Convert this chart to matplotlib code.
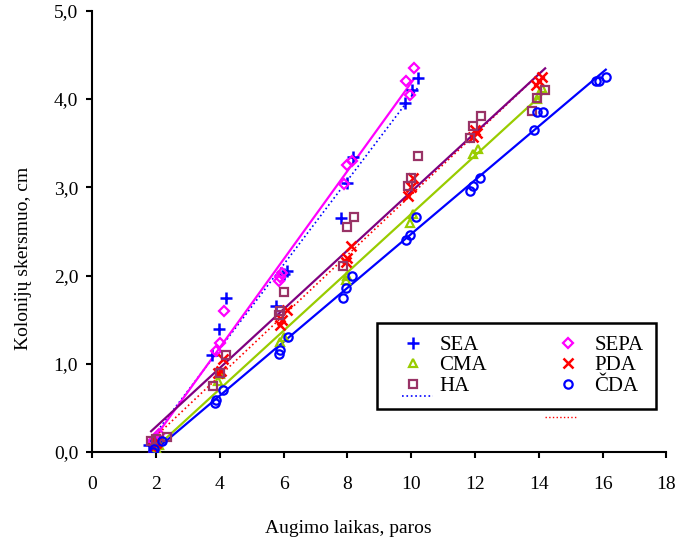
import numpy as np
import matplotlib
matplotlib.use('Agg')
import matplotlib.pyplot as plt
from matplotlib.ticker import FuncFormatter

plt.rcParams['font.family'] = ['Liberation Serif', 'DejaVu Serif']

# Growth data (day, colony diameter cm)
sea_x = [1.8, 1.9, 2.0, 3.76, 3.98, 4.2, 5.76, 6.0, 6.1, 7.8, 8.0, 8.17, 9.8, 10.02, 10.2]
sea_y = [0.08, 0.10, 0.12, 1.10, 1.39, 1.75, 1.66, 2.02, 2.05, 2.65, 3.05, 3.34, 3.95, 4.10, 4.24]

sepa_x = [1.9, 2.0, 2.1, 3.9, 4.0, 4.15, 5.87, 5.9, 5.94, 7.9, 8.0, 8.15, 9.85, 9.95, 10.1]
sepa_y = [0.12, 0.15, 0.20, 1.14, 1.24, 1.60, 1.94, 1.98, 2.03, 3.04, 3.25, 3.30, 4.20, 4.05, 4.35]

cma_x = [1.95, 2.0, 2.1, 3.95, 4.0, 5.9, 6.0, 7.95, 8.0, 9.95, 10.05, 11.95, 12.1, 13.95, 14.1]
cma_y = [0.00, 0.05, 0.08, 0.80, 0.88, 1.25, 1.30, 1.95, 2.00, 2.59, 2.70, 3.38, 3.43, 4.00, 4.12]

pda_x = [1.9, 2.0, 2.05, 3.95, 4.05, 4.1, 5.9, 5.95, 6.1, 7.95, 8.0, 8.1,
         9.9, 10.0, 10.05, 11.95, 12.0, 12.05, 13.9, 14.0, 14.1]
pda_y = [0.05, 0.10, 0.13, 0.90, 0.92, 1.05, 1.44, 1.50, 1.61, 2.15, 2.20, 2.34,
         2.90, 3.00, 3.10, 3.57, 3.65, 3.62, 4.16, 4.20, 4.25]

ha_x = [1.85, 2.0, 2.35, 3.8, 4.0, 4.2, 5.85, 5.9, 6.0, 7.85, 8.0, 8.2,
        9.9, 10.0, 10.2, 11.85, 11.95, 12.2, 13.8, 13.95, 14.2]
ha_y = [0.12, 0.15, 0.17, 0.75, 0.90, 1.10, 1.55, 1.60, 1.81, 2.11, 2.55, 2.66,
        3.01, 3.10, 3.35, 3.56, 3.70, 3.81, 3.86, 4.01, 4.10]

cda_x = [1.9, 1.95, 2.2, 3.85, 3.9, 4.1, 5.85, 5.9, 6.15, 7.85, 7.95, 8.15,
         9.85, 9.95, 10.15, 11.85, 11.95, 12.15, 13.85, 13.93, 14.12, 15.8, 15.9, 16.1]
cda_y = [0.00, 0.03, 0.12, 0.56, 0.59, 0.70, 1.11, 1.16, 1.30, 1.74, 1.86, 2.00,
         2.40, 2.46, 2.66, 2.96, 3.01, 3.10, 3.65, 3.85, 3.85, 4.20, 4.20, 4.25]

fig = plt.figure(figsize=(6.87, 5.42), dpi=100)
ax = fig.add_axes([0.134, 0.166, 0.836, 0.814])

series = [
    # label, x, y, marker, marker colour, line colour, line style, marker size
    ('SEA', sea_x, sea_y, '+', '#0000ff', '#0000ff', ':', 8),
    ('SEPA', sepa_x, sepa_y, 'D', '#ff00ff', '#ff00ff', '-', 5),
    ('CMA', cma_x, cma_y, '^', '#99cc00', '#99cc00', '-', 6),
    ('PDA', pda_x, pda_y, 'x', '#ff0000', '#ff0000', ':', 7),
    ('HA', ha_x, ha_y, 's', '#993366', '#800080', '-', 6),
    ('ČDA', cda_x, cda_y, 'o', '#0000ff', '#0000ff', '-', 6),
]

handles = {}
for name, xs, ys, mk, mc, lc, ls, ms in series:
    xs = np.array(xs)
    ys = np.array(ys)
    k, b = np.polyfit(xs, ys, 1)
    xx = np.array([xs.min(), xs.max()])
    ax.plot(xx, k * xx + b, color=lc, linestyle=ls, lw=1.6 if ls == '-' else 1.2, zorder=2)
    if mk in ('+', 'x'):
        h = ax.plot(xs, ys, linestyle='none', marker=mk, color=mc, ms=ms, mew=1.8, zorder=3)[0]
    else:
        h = ax.plot(xs, ys, linestyle='none', marker=mk, mfc='none', mec=mc, ms=ms, mew=1.6, zorder=3)[0]
    handles[name] = h

ax.set_xlim(0, 18)
ax.set_ylim(0, 5)
ax.set_xticks(np.arange(0, 19, 2))
ax.set_yticks(np.arange(0, 5.1, 1))
ax.yaxis.set_major_formatter(FuncFormatter(lambda v, p: f'{v:.1f}'.replace('.', ',')))
ax.spines['top'].set_visible(False)
ax.spines['right'].set_visible(False)
for s in ('left', 'bottom'):
    ax.spines[s].set_linewidth(1.5)
ax.tick_params(direction='out', length=4, width=1.5, labelsize=14)
ax.tick_params(axis='x', pad=13)
ax.tick_params(axis='y', pad=6)

ax.set_xlabel('Augimo laikas, paros', fontsize=14)
ax.xaxis.set_label_coords(0.447, -0.155)
ax.set_ylabel('Kolonijų skersmuo, cm', fontsize=14)
ax.yaxis.set_label_coords(-0.105, 0.44)

leg_handles = [handles['SEA'], handles['CMA'], handles['HA'],
               handles['SEPA'], handles['PDA'], handles['ČDA']]
leg_labels = ['SEA', 'CMA', 'HA', 'SEPA', 'PDA', 'ČDA']
leg = ax.legend(leg_handles, leg_labels, ncol=2, loc='upper left',
                bbox_to_anchor=(0.496, 0.293), numpoints=1,
                fontsize=15, frameon=True, fancybox=False, handlelength=2.3,
                labelspacing=0.05, borderpad=0.6, handletextpad=0.1,
                columnspacing=2.75, borderaxespad=0)
leg.get_frame().set_edgecolor('black')
leg.get_frame().set_linewidth(1.8)
leg.get_frame().set_alpha(1)

# stray dotted line fragments visible in the original figure
ax.plot([0.539, 0.593], [0.127, 0.127], transform=ax.transAxes, color='#0000ff',
        linestyle=':', lw=1.2, zorder=6)
ax.plot([0.788, 0.844], [0.079, 0.079], transform=ax.transAxes, color='#ff0000',
        linestyle=':', lw=1.0, zorder=6)

fig.savefig('out.png', dpi=100)
